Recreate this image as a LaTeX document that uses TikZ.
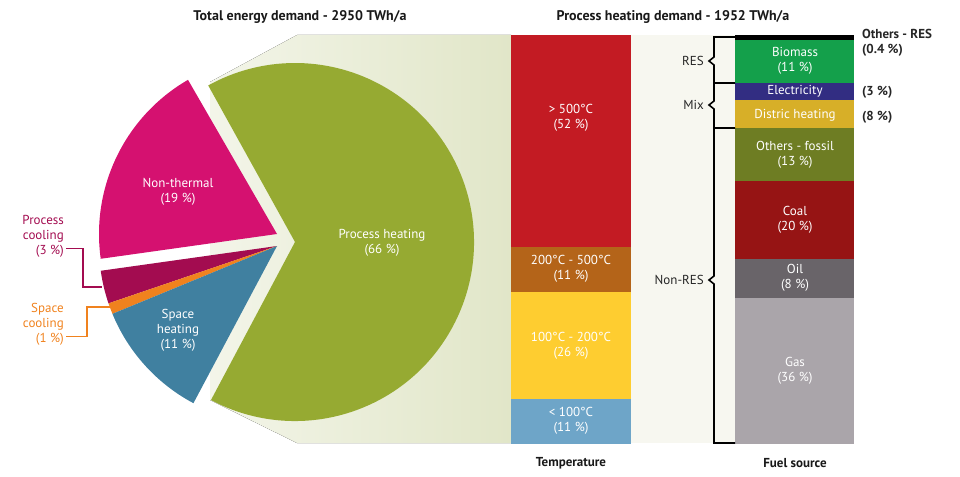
\documentclass[tikz,border=0pt]{standalone}
\usepackage{fontspec}
\setmainfont{PT Sans}
\begin{document}
\begin{tikzpicture}[x=1pt,y=-1pt,
  lbl/.style={align=center,text=white,font=\fontsize{13}{15}\selectfont,inner sep=0pt},
  dk/.style={align=center,text=black!85,font=\fontsize{13}{15}\selectfont,inner sep=0pt},
  ttl/.style={font=\bfseries\fontsize{14}{16}\selectfont,text=black!90,inner sep=0pt},
  br/.style={line width=1.6pt,black}]
\definecolor{cGreen}{RGB}{150,170,50}
\definecolor{cNT}{RGB}{213,17,112}
\definecolor{cPC}{RGB}{163,12,80}
\definecolor{cSC}{RGB}{240,130,30}
\definecolor{cSH}{RGB}{64,128,160}
\definecolor{cT1}{RGB}{195,27,35}
\definecolor{cT2}{RGB}{180,100,25}
\definecolor{cT3}{RGB}{254,205,48}
\definecolor{cT4}{RGB}{110,165,200}
\definecolor{cBio}{RGB}{20,160,75}
\definecolor{cEl}{RGB}{50,45,130}
\definecolor{cDH}{RGB}{215,175,40}
\definecolor{cOF}{RGB}{110,125,35}
\definecolor{cCoal}{RGB}{150,20,20}
\definecolor{cOil}{RGB}{105,100,105}
\definecolor{cGas}{RGB}{170,165,170}
\definecolor{bgA}{RGB}{225,230,200}
\definecolor{bgB}{RGB}{247,247,240}
\useasboundingbox (0,0) rectangle (960,476);
% backgrounds
\fill[left color=bgA!40,right color=bgA] (297,35) -- (511,35) -- (511,443) -- (297,443) -- (210,400) -- (210,82) -- cycle;
\fill[bgB] (511,35) rectangle (735,443);
% pie
\fill[cGreen] (295,242) -- ++(118:179) arc[start angle=118,end angle=-119,radius=179] -- cycle;
\fill[cNT] (277,234) -- ++(-120:178) arc[start angle=-120,end angle=-188,radius=178] -- cycle;
\fill[cPC] (277,246) -- ++(-188:178) arc[start angle=-188,end angle=-198.8,radius=178] -- cycle;
\fill[cSC] (277,246) -- ++(-198.8:178) arc[start angle=-198.8,end angle=-202.4,radius=178] -- cycle;
\fill[cSH] (277,246) -- ++(-202.4:178) arc[start angle=-202.4,end angle=-242,radius=178] -- cycle;
\node[lbl] (ph) at (382,243) {Process heating\\(66 \%)};
\node[lbl] (nt) at (178,192) {Non-thermal\\(19 \%)};
\node[lbl] (sh) at (178,330) {Space\\heating\\(11 \%)};
\node[align=right,anchor=east,text=cPC,font=\fontsize{13}{15}\selectfont,inner sep=0pt] (pcl) at (64,236) {Process\\cooling\\(3 \%)};
\node[align=right,anchor=east,text=cSC,font=\fontsize{13}{15}\selectfont,inner sep=0pt] (scl) at (64,324) {Space\\cooling\\(1 \%)};
\coordinate (pcE) at (102,287);
\coordinate (scE) at (110,307);
\draw[cPC,line width=1.3pt] (pcl.south east) ++(2,-9) -- ++(17,0) |- (pcE);
\draw[cSC,line width=1.3pt] (scl.south east) ++(2,-9) -- ++(21,0) |- (scE);
% titles
\node[ttl] (t1) at (300,17) {Total energy demand - 2950 TWh/a};
\node[ttl] (t2) at (673,17) {Process heating demand - 1952 TWh/a};
% temperature bar
\fill[cT1] (511,35) rectangle (631,247);
\fill[cT2] (511,247) rectangle (631,292);
\fill[cT3] (511,292) rectangle (631,399);
\fill[cT4] (511,399) rectangle (631,444);
\node[lbl] (a1) at (571,118) {> 500°C\\(52 \%)};
\node[lbl] (a2) at (571,269) {200°C - 500°C\\(11 \%)};
\node[lbl] (a3) at (571,346) {100°C - 200°C\\(26 \%)};
\node[lbl] (a4) at (571,421) {< 100°C\\(11 \%)};
\node[ttl,font=\bfseries\fontsize{13}{15}\selectfont] (tt) at (571,463) {Temperature};
% fuel bar
\fill[black] (735,35) rectangle (854,40);
\fill[cBio] (735,40) rectangle (854,83);
\fill[cEl] (735,83) rectangle (854,100);
\fill[cDH] (735,100) rectangle (854,128);
\fill[cOF] (735,128) rectangle (854,181);
\fill[cCoal] (735,181) rectangle (854,259);
\fill[cOil] (735,259) rectangle (854,298);
\fill[cGas] (735,298) rectangle (854,444);
\node[lbl] (f1) at (795,61) {Biomass\\(11 \%)};
\node[lbl] (f2) at (795,91) {Electricity};
\node[lbl] (f3) at (795,115) {Distric heating};
\node[lbl] (f4) at (795,155) {Others - fossil\\(13 \%)};
\node[lbl] (f5) at (795,220) {Coal\\(20 \%)};
\node[lbl] (f6) at (795,278) {Oil\\(8 \%)};
\node[lbl] (f7) at (795,371) {Gas\\(36 \%)};
\node[ttl,font=\bfseries\fontsize{13}{15}\selectfont] (tf) at (795,463) {Fuel source};
\node[dk,anchor=west,align=left,font=\bfseries\fontsize{13}{15}\selectfont] (o1) at (862,43) {Others - RES\\(0.4 \%)};
\node[dk,anchor=west,font=\bfseries\fontsize{13}{15}\selectfont] (o2) at (862,92) {(3 \%)};
\node[dk,anchor=west,font=\bfseries\fontsize{13}{15}\selectfont] (o3) at (862,117) {(8 \%)};
% brackets
\draw[br] (735,37) -- (714,37) -- (714,57) -- (709,61) -- (714,65) -- (714,83) -- (735,83);
\draw[br] (714,83) -- (714,101) -- (709,105) -- (714,109) -- (714,128) -- (735,128);
\draw[br] (714,128) -- (714,276) -- (709,280) -- (714,284) -- (714,443) -- (735,443);
\node[dk,anchor=east] (r1) at (704,61) {RES};
\node[dk,anchor=east] (r2) at (704,105) {Mix};
\node[dk,anchor=east] (r3) at (704,280) {Non-RES};
\end{tikzpicture}
\end{document}
